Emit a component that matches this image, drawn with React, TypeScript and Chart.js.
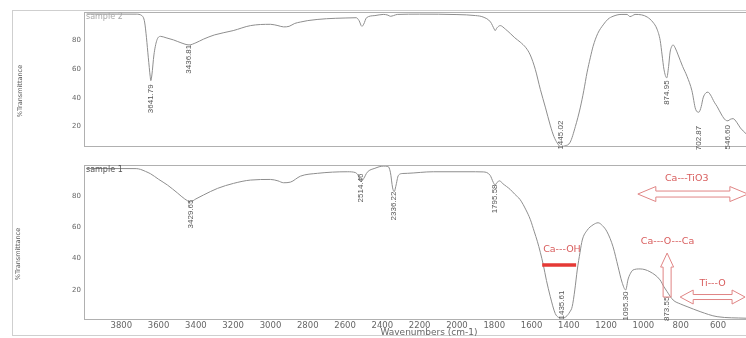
import React, { useEffect, useRef } from "react";
import { Chart, registerables } from "chart.js";

Chart.register(...registerables);

// ---------- data ----------
const xTickValues = [3800, 3600, 3400, 3200, 3000, 2800, 2600, 2400, 2200, 2000, 1800, 1600, 1400, 1200, 1000, 800, 600];
const yTickValues = [20, 40, 60, 80];

const sample2Wavenumbers = [3986, 3720, 3690, 3675, 3665, 3655, 3645, 3641.79, 3636, 3625, 3610, 3590, 3560, 3520, 3480, 3436.81, 3400, 3360, 3300, 3200, 3107, 3000, 2960, 2930, 2900, 2870, 2839, 2800, 2700, 2600, 2540, 2525, 2510, 2500, 2485, 2440, 2395, 2370, 2357, 2340, 2320, 2200, 2000, 1900, 1860, 1820, 1800, 1795.58, 1785, 1768, 1740, 1714, 1690, 1661, 1630, 1607, 1580, 1553, 1525, 1500, 1480, 1462, 1445.02, 1420, 1393, 1365, 1339, 1320, 1302, 1285, 1270, 1245, 1216, 1190, 1163, 1120, 1088, 1072, 1058, 1045, 1010, 980, 950, 927, 910, 900, 890, 874.95, 865, 857, 848, 841, 830, 814, 790, 766, 740, 720, 702.87, 690, 680, 665, 654, 640, 620, 605, 580, 560, 546.6, 535, 519, 500, 480, 450];
const sample2Transmittance = [98.6, 98.5, 97.5, 93, 82, 68, 55, 52, 56, 70, 80, 83, 82, 80.5, 78.5, 77, 78.5, 81, 84, 87, 90.5, 91.4, 90.5, 89.6, 90, 92, 93, 94, 95.3, 95.8, 96, 94, 90, 91.5, 96, 97.5, 98.3, 97.8, 97, 97.5, 98.3, 98.5, 98.2, 97.5, 96.5, 93, 88, 87, 89, 90.5, 88, 85, 82, 79, 75, 70, 60, 46, 33, 21, 13, 8.5, 6, 6.5, 9, 20, 33, 45, 58, 68, 76, 85, 91, 95, 97, 98.3, 98.3, 96.8, 97.5, 98.3, 98, 96.5, 93, 88, 80, 70, 60, 54, 62, 72, 76, 77, 75, 70, 62, 55, 45, 32, 30, 34, 40, 43.5, 44, 42, 37, 34, 28, 24.5, 24, 25, 25.5, 23, 19, 15];

const sample1Wavenumbers = [3986, 3720, 3697, 3670, 3643, 3600, 3552, 3498, 3460, 3429.65, 3400, 3359, 3284, 3198, 3107, 3000, 2960, 2930, 2893, 2839, 2748, 2588, 2545, 2530, 2514.46, 2500, 2481, 2440, 2395, 2370, 2357, 2345, 2336.22, 2328, 2314, 2290, 2266, 2127, 1900, 1859, 1822, 1805, 1795.58, 1785, 1770, 1757, 1735, 1714, 1690, 1661, 1630, 1607, 1585, 1569, 1553, 1537, 1520, 1500, 1473, 1455, 1435.61, 1415, 1395, 1382, 1368, 1355, 1340, 1328, 1302, 1270, 1243, 1220, 1195, 1163, 1136, 1115, 1095.3, 1082, 1065, 1056, 1018, 965, 911, 890, 873.55, 841, 800, 766, 696, 605, 450];
const sample1Transmittance = [97.4, 97.3, 96.8, 95.5, 94, 90.5, 86.8, 81.7, 78, 76.2, 78, 80.5, 84.7, 87.9, 90, 90.4, 89.5, 88.3, 88.7, 92.5, 94.3, 95.3, 94.8, 93, 89, 91, 95, 97.5, 98.9, 98.7, 95, 85, 82.6, 86, 93, 94.2, 94.3, 95.3, 95.3, 95.2, 93, 88.5, 86.8, 88.5, 89.5, 88, 86, 84, 81, 77.5, 71, 65, 57, 51, 44, 36, 26, 16, 5, 2.5, 2, 3, 6, 9.4, 20, 32.7, 44, 51.8, 58, 61.5, 62.8, 61, 57, 47.5, 34.8, 25, 20, 27, 31.5, 32.7, 33.4, 31.6, 26.4, 22, 19, 13.6, 11, 9.4, 6.2, 3, 2];

const sample2PeakWavenumbers = [3641.79, 3436.81, 1445.02, 874.95, 702.87, 546.6];
const sample2PeakLabelT = [39.4, 67, 14, 43.7, 12, 12.5];
const sample1PeakWavenumbers = [3429.65, 2514.46, 2336.22, 1795.58, 1435.61, 1095.3, 873.55];
const sample1PeakLabelT = [68.4, 85, 73.5, 78, 10.4, 9.8, 8];

const bandLabels = ["Ca---TiO3", "Ca---OH", "Ca---O---Ca", "Ti---O"];
const bandLabelWn = [768, 1437, 871, 629];
const bandLabelT = [91.1, 45.9, 50.7, 24.3];

// ---------- styles ----------
const LINE = "#8e8e8e";
const FRAME = "#b0b0b0";
const TEXT = "#5a5a5a";
const RED_TEXT = "#d85c5c";
const RED_LINE = "#e08585";
const RED_BAR = "#e53935";
const PEAK_FONT = "8px 'Liberation Sans Narrow', 'Liberation Sans', sans-serif";

function drawRotated(ctx: CanvasRenderingContext2D, text: string, x: number, y: number, font: string, color: string) {
  ctx.save();
  ctx.translate(x, y);
  ctx.rotate(-Math.PI / 2);
  ctx.font = font;
  ctx.fillStyle = color;
  ctx.textAlign = "center";
  ctx.textBaseline = "middle";
  ctx.fillText(text, 0, 0);
  ctx.restore();
}

function doubleArrow(ctx: CanvasRenderingContext2D, x1: number, x2: number, cy: number, hl: number, hh: number, sh: number) {
  ctx.beginPath();
  ctx.moveTo(x1, cy);
  ctx.lineTo(x1 + hl, cy - hh);
  ctx.lineTo(x1 + hl, cy - sh);
  ctx.lineTo(x2 - hl, cy - sh);
  ctx.lineTo(x2 - hl, cy - hh);
  ctx.lineTo(x2, cy);
  ctx.lineTo(x2 - hl, cy + hh);
  ctx.lineTo(x2 - hl, cy + sh);
  ctx.lineTo(x1 + hl, cy + sh);
  ctx.lineTo(x1 + hl, cy + hh);
  ctx.closePath();
  ctx.stroke();
}

function upArrow(ctx: CanvasRenderingContext2D, cx: number, tipY: number, baseY: number, hl: number, hw: number, sw: number) {
  ctx.beginPath();
  ctx.moveTo(cx, tipY);
  ctx.lineTo(cx + hw, tipY + hl);
  ctx.lineTo(cx + sw, tipY + hl);
  ctx.lineTo(cx + sw, baseY);
  ctx.lineTo(cx - sw, baseY);
  ctx.lineTo(cx - sw, tipY + hl);
  ctx.lineTo(cx - hw, tipY + hl);
  ctx.closePath();
  ctx.stroke();
}

function makeDecor(id: string, sampleName: string, sampleColor: string, titleX: number, peakWn: number[], peakT: number[], bands: boolean) {
  return {
    id,
    afterDraw(chart: any) {
      const { ctx, chartArea: a, scales } = chart;
      const xs = scales.x;
      const ys = scales.y;
      ctx.save();
      ctx.strokeStyle = FRAME;
      ctx.lineWidth = 1;
      ctx.strokeRect(a.left + 0.5, a.top + 0.5, a.right - a.left, a.bottom - a.top);
      // sample name
      ctx.font = "8px 'DejaVu Sans', sans-serif";
      ctx.fillStyle = sampleColor;
      ctx.textAlign = "left";
      ctx.textBaseline = "middle";
      ctx.fillText(sampleName, a.left + 2, a.top + 5);
      // y title
      drawRotated(ctx, "%Transmittance", titleX, (a.top + a.bottom) / 2 + 12, "6.5px 'DejaVu Sans', sans-serif", TEXT);
      // peak labels
      peakWn.forEach((w, i) => {
        drawRotated(ctx, w.toFixed(2), xs.getPixelForValue(w), ys.getPixelForValue(peakT[i]), PEAK_FONT, "#555");
      });
      if (bands) {
        // x title
        ctx.font = "9px 'DejaVu Sans', sans-serif";
        ctx.fillStyle = "#666";
        ctx.textAlign = "center";
        ctx.textBaseline = "middle";
        ctx.fillText("Wavenumbers (cm-1)", xs.getPixelForValue(2150), a.bottom + 14);
        // band texts
        ctx.font = "9.5px 'DejaVu Sans', sans-serif";
        ctx.fillStyle = RED_TEXT;
        bandLabels.forEach((t, i) => {
          ctx.fillText(t, xs.getPixelForValue(bandLabelWn[i]), ys.getPixelForValue(bandLabelT[i]));
        });
        ctx.strokeStyle = RED_LINE;
        ctx.lineWidth = 1;
        // Ca-TiO3 double arrow
        doubleArrow(ctx, xs.getPixelForValue(1030), xs.getPixelForValue(440), ys.getPixelForValue(81.1), 18, 7.5, 3);
        // Ti-O double arrow
        doubleArrow(ctx, xs.getPixelForValue(803), xs.getPixelForValue(455), ys.getPixelForValue(15.5), 13, 7, 2.5);
        // Ca-O-Ca up arrow
        upArrow(ctx, xs.getPixelForValue(873), ys.getPixelForValue(43.5), ys.getPixelForValue(15.5), 14, 6.5, 4);
        // Ca-OH red bar
        ctx.strokeStyle = RED_BAR;
        ctx.lineWidth = 3.5;
        ctx.beginPath();
        ctx.moveTo(xs.getPixelForValue(1543), ys.getPixelForValue(35.9));
        ctx.lineTo(xs.getPixelForValue(1361), ys.getPixelForValue(35.9));
        ctx.stroke();
      }
      ctx.restore();
    },
  };
}

function buildChart(canvas: HTMLCanvasElement, wn: number[], tr: number[], yMin: number, yMax: number, lower: boolean, plugin: any) {
  return new Chart(canvas, {
    type: "line",
    data: {
      datasets: [
        {
          data: wn.map((w, i) => ({ x: w, y: tr[i] })),
          borderColor: LINE,
          borderWidth: 1,
          pointRadius: 0,
          cubicInterpolationMode: "monotone",
          fill: false,
        },
      ],
    },
    options: {
      responsive: false,
      animation: false,
      devicePixelRatio: 1,
      layout: { padding: lower ? { top: 15, left: 0, right: 0, bottom: 0 } : { top: 12, left: 0, right: 0, bottom: 1 } },
      plugins: { legend: { display: false }, tooltip: { enabled: false } },
      scales: {
        x: {
          type: "linear",
          min: 450,
          max: 4000,
          reverse: true,
          display: lower,
          grid: { display: false, drawTicks: false },
          border: { display: false },
          afterBuildTicks: (axis: any) => {
            axis.ticks = xTickValues.map((v) => ({ value: v }));
          },
          afterFit: (s: any) => {
            s.height = 19;
          },
          ticks: {
            autoSkip: false,
            maxRotation: 0,
            padding: 2,
            color: "#666",
            font: { family: "'DejaVu Sans', sans-serif", size: 8.5 },
            callback: (v: any) => String(v),
          },
        },
        y: {
          type: "linear",
          min: yMin,
          max: yMax,
          grid: { display: false, drawTicks: false },
          border: { display: false },
          afterBuildTicks: (axis: any) => {
            axis.ticks = yTickValues.map((v) => ({ value: v }));
          },
          afterFit: (s: any) => {
            s.width = 84;
          },
          ticks: {
            padding: 3,
            color: "#666",
            font: { family: "'DejaVu Sans', sans-serif", size: 7 },
            callback: (v: any) => String(v),
          },
        },
      },
    } as any,
    plugins: [plugin],
  });
}

export default function App() {
  const upperRef = useRef<HTMLCanvasElement>(null);
  const lowerRef = useRef<HTMLCanvasElement>(null);

  useEffect(() => {
    const up = buildChart(
      upperRef.current!,
      sample2Wavenumbers,
      sample2Transmittance,
      6.4,
      100,
      false,
      makeDecor("upperDecor", "sample 2", "#a8a8a8", 20, sample2PeakWavenumbers, sample2PeakLabelT, false)
    );
    const lo = buildChart(
      lowerRef.current!,
      sample1Wavenumbers,
      sample1Transmittance,
      1.5,
      99.6,
      true,
      makeDecor("lowerDecor", "sample 1", "#555", 18, sample1PeakWavenumbers, sample1PeakLabelT, true)
    );
    return () => {
      up.destroy();
      lo.destroy();
    };
  }, []);

  return (
    <div style={{ position: "fixed", left: 0, top: 0, width: 746, height: 338, background: "#fff", overflow: "hidden" }}>
      <div style={{ position: "absolute", left: 12, top: 10, width: 740, height: 324, border: "1px solid #cfcfcf" }} />
      <canvas ref={upperRef} width={746} height={166} style={{ position: "absolute", left: 0, top: 0, width: 746, height: 166 }} />
      <canvas ref={lowerRef} width={746} height={188} style={{ position: "absolute", left: 0, top: 150, width: 746, height: 188 }} />
    </div>
  );
}
